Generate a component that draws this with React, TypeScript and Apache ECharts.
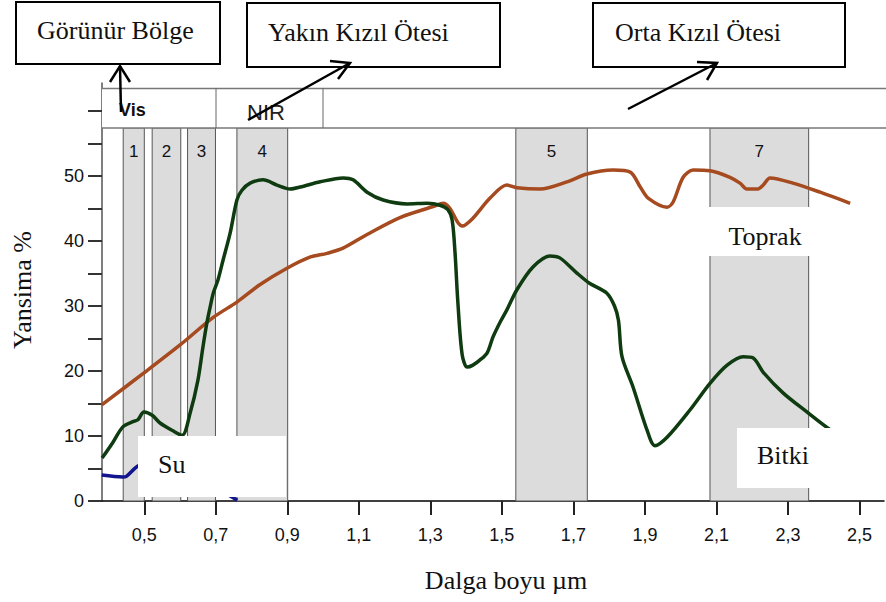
import { useEffect, useRef } from 'react';
import * as echarts from 'echarts';

// Vegetation (Bitki) spectral reflectance
const vegWave = [0.382, 0.412, 0.44, 0.468, 0.482, 0.499, 0.522, 0.544, 0.58, 0.606, 0.628, 0.65, 0.664, 0.675, 0.684, 0.693, 0.706, 0.72, 0.74, 0.759, 0.773, 0.796, 0.832, 0.871, 0.908, 0.936, 0.992, 1.056, 1.084, 1.123, 1.168, 1.235, 1.291, 1.327, 1.349, 1.361, 1.369, 1.377, 1.389, 1.403, 1.419, 1.439, 1.459, 1.475, 1.495, 1.514, 1.542, 1.587, 1.634, 1.662, 1.709, 1.745, 1.793, 1.815, 1.826, 1.836, 1.867, 1.906, 1.928, 1.962, 2.026, 2.082, 2.13, 2.175, 2.203, 2.231, 2.287, 2.353, 2.412, 2.46];
const vegRefl = [6.6, 9.0, 11.4, 12.2, 12.5, 13.7, 13.2, 12.0, 10.8, 10.1, 13.5, 18.6, 23.7, 27.4, 29.8, 32.0, 34.0, 37.0, 41.2, 46.3, 47.8, 48.9, 49.4, 48.6, 48.0, 48.3, 49.1, 49.7, 49.4, 47.5, 46.3, 45.7, 45.8, 45.5, 44.8, 43.2, 38.2, 30.5, 22.5, 20.6, 20.9, 21.7, 22.8, 25.2, 27.5, 29.4, 32.5, 36.0, 37.7, 37.4, 35.1, 33.5, 32.0, 30.0, 27.8, 22.2, 17.5, 10.9, 8.5, 9.8, 14.0, 18.1, 20.9, 22.2, 22.0, 19.8, 16.6, 13.7, 11.2, 9.5];

// Soil (Toprak) spectral reflectance
const soilWave = [0.381, 0.499, 0.6, 0.692, 0.759, 0.824, 0.899, 0.963, 1.011, 1.056, 1.123, 1.215, 1.308, 1.336, 1.355, 1.375, 1.389, 1.419, 1.467, 1.514, 1.542, 1.607, 1.682, 1.738, 1.811, 1.859, 1.887, 1.909, 1.962, 1.979, 2.007, 2.035, 2.082, 2.138, 2.166, 2.185, 2.216, 2.231, 2.25, 2.314, 2.39, 2.474];
const soilRefl = [14.8, 19.7, 24.0, 28.2, 30.6, 33.3, 35.8, 37.5, 38.1, 38.9, 41.0, 43.6, 45.3, 45.8, 45.0, 43.0, 42.3, 43.5, 46.6, 48.6, 48.2, 48.0, 49.1, 50.3, 50.9, 50.6, 48.3, 46.6, 45.2, 46.0, 49.8, 50.9, 50.8, 49.8, 48.9, 48.0, 48.0, 48.6, 49.7, 48.9, 47.5, 45.8];

// Water (Su) spectral reflectance
const waterWave = [0.381, 0.44, 0.45, 0.475, 0.49, 0.55, 0.62, 0.7, 0.745, 0.76];
const waterRefl = [4.0, 3.7, 3.8, 5.1, 5.6, 6.5, 4.5, 2.0, 0.6, 0.1];

// Landsat TM bands
const bandNames = ['1', '2', '3', '4', '5', '7'];
const bandStart = [0.441, 0.522, 0.621, 0.759, 1.539, 2.082];
const bandEnd = [0.5, 0.602, 0.699, 0.901, 1.739, 2.358];
const bandTop = 57.4;

// Axis ticks
const xTicks = [0.5, 0.7, 0.9, 1.1, 1.3, 1.5, 1.7, 1.9, 2.1, 2.3, 2.5];
const yLabels = [0, 10, 20, 30, 40, 50];
const yTicks = [0, 5, 10, 15, 20, 25, 30, 35, 40, 45, 50, 55, 60];

const SANS = 'Liberation Sans, Arial, sans-serif';
const SERIF = 'Liberation Serif, Times New Roman, serif';

const zip = (a: number[], b: number[]) => a.map((v, i) => [v, b[i]]);

export default function App() {
  const ref = useRef<HTMLDivElement>(null);
  useEffect(() => {
    document.body.style.margin = '0';
    const chart = echarts.init(ref.current!, null, { renderer: 'svg' });
    const Z = 100;
    const headerBox = (x: number, y: number, w: number, h: number, text: string, tx: number, ty: number) => [
      { type: 'rect', z: Z, shape: { x, y, width: w, height: h }, style: { fill: '#fff', stroke: '#000', lineWidth: 2 } },
      { type: 'text', z: Z + 1, x: tx, y: ty, style: { text, font: `26px ${SERIF}`, fill: '#111', verticalAlign: 'middle' } },
    ];
    const arrow = (x1: number, y1: number, x2: number, y2: number, h1: number[], h2: number[]) => [
      { type: 'line', z: Z + 2, shape: { x1, y1, x2, y2 }, style: { stroke: '#000', lineWidth: 2.5 } },
      { type: 'polyline', z: Z + 2, shape: { points: [h1, [x2, y2], h2] }, style: { stroke: '#000', lineWidth: 2.5, fill: null } },
    ];
    const stripStroke = { stroke: '#777', lineWidth: 1.5 };
    chart.setOption({
      animation: false,
      grid: { left: 102, right: 2, top: 83, bottom: 101 },
      xAxis: {
        type: 'value',
        min: 0.3817,
        max: 2.5687,
        axisLine: { lineStyle: { color: '#000', width: 1.5 } },
        axisTick: { customValues: xTicks, length: 14, lineStyle: { color: '#222', width: 2 } },
        axisLabel: {
          customValues: xTicks,
          margin: 25,
          fontSize: 18,
          fontFamily: SANS,
          color: '#111',
          formatter: (v: number) => v.toFixed(1).replace('.', ','),
        },
        splitLine: { show: false },
      },
      yAxis: {
        type: 'value',
        min: 0,
        max: 64.3,
        axisLine: { show: true, lineStyle: { color: '#555', width: 1.5 } },
        axisTick: { show: true, customValues: yTicks, length: 14, lineStyle: { color: '#333', width: 2 } },
        axisLabel: { customValues: yLabels, margin: 18, fontSize: 18, fontFamily: SANS, color: '#111' },
        splitLine: { show: false },
      },
      series: [
        {
          type: 'line',
          name: 'bands',
          z: 1,
          data: [],
          silent: true,
          markArea: {
            silent: true,
            itemStyle: { color: '#dcdcdc', borderColor: '#555', borderWidth: 1 },
            label: { show: true, position: 'insideTop', distance: 16, fontSize: 17, fontFamily: SANS, color: '#111' },
            data: bandNames.map((n, i) => [
              { name: n, xAxis: bandStart[i], yAxis: 0 },
              { xAxis: bandEnd[i], yAxis: bandTop },
            ]),
          },
        },
        {
          type: 'line', name: 'Su', data: zip(waterWave, waterRefl), showSymbol: false, smooth: 0.3,
          lineStyle: { color: '#12158c', width: 3.5 },
        },
        {
          type: 'line', name: 'Toprak', data: zip(soilWave, soilRefl), showSymbol: false, smooth: 0.3,
          lineStyle: { color: '#a64a1f', width: 3.5 },
        },
        {
          type: 'line', name: 'Bitki', data: zip(vegWave, vegRefl), showSymbol: false, smooth: 0.3,
          lineStyle: { color: '#0f3b10', width: 3.5 },
        },
      ],
      graphic: [
        // top strip
        { type: 'rect', z: Z - 1, shape: { x: 102, y: 88, width: 784, height: 40 }, style: { fill: '#fff' } },
        { type: 'line', z: Z, shape: { x1: 102, y1: 88.5, x2: 886, y2: 88.5 }, style: stripStroke },
        { type: 'line', z: Z, shape: { x1: 102, y1: 128, x2: 886, y2: 128 }, style: stripStroke },
        { type: 'line', z: Z, shape: { x1: 216, y1: 88, x2: 216, y2: 128 }, style: { stroke: '#666', lineWidth: 1 } },
        { type: 'line', z: Z, shape: { x1: 323, y1: 88, x2: 323, y2: 128 }, style: { stroke: '#666', lineWidth: 1 } },
        { type: 'text', z: Z + 1, x: 119, y: 110, style: { text: 'Vis', font: `bold 18px ${SANS}`, fill: '#111', verticalAlign: 'middle' } },
        { type: 'text', z: Z + 1, x: 247, y: 112, style: { text: 'NIR', font: `22px ${SANS}`, fill: '#222', verticalAlign: 'middle' } },
        // header boxes
        ...headerBox(16, 2, 204, 62, 'Görünür Bölge', 37, 30),
        ...headerBox(247, 3, 253, 64, 'Yakın Kızıl Ötesi', 268, 32),
        ...headerBox(593, 3, 252, 64, 'Orta Kızıl Ötesi', 615, 32),
        // arrows
        ...arrow(121, 112, 120, 66, [110, 82], [130, 82]),
        ...arrow(248, 120, 350, 63, [330, 61], [338, 79]),
        ...arrow(628, 109, 717, 63, [697, 62], [707, 80]),
        // label boxes
        { type: 'rect', z: Z, shape: { x: 138, y: 436, width: 148, height: 61 }, style: { fill: '#fff' } },
        { type: 'text', z: Z + 1, x: 158, y: 464, style: { text: 'Su', font: `26px ${SERIF}`, fill: '#111', verticalAlign: 'middle' } },
        { type: 'rect', z: Z, shape: { x: 737, y: 428, width: 145, height: 60 }, style: { fill: '#fff' } },
        { type: 'text', z: Z + 1, x: 757, y: 455, style: { text: 'Bitki', font: `26px ${SERIF}`, fill: '#111', verticalAlign: 'middle' } },
        { type: 'rect', z: Z, shape: { x: 708, y: 207, width: 103, height: 49 }, style: { fill: '#fff' } },
        { type: 'text', z: Z + 1, x: 765, y: 236, style: { text: 'Toprak', font: `26px ${SERIF}`, fill: '#111', align: 'center', verticalAlign: 'middle' } },
        // axis titles
        { type: 'text', z: Z, x: 506, y: 580, style: { text: 'Dalga boyu µm', font: `26px ${SERIF}`, fill: '#111', align: 'center', verticalAlign: 'middle' } },
        { type: 'text', z: Z, x: 22, y: 290, rotation: Math.PI / 2, style: { text: 'Yansima %', font: `26px ${SERIF}`, fill: '#111', align: 'center', verticalAlign: 'middle' } },
      ],
    });
    return () => chart.dispose();
  }, []);
  return <div ref={ref} style={{ width: 886, height: 602 }} />;
}
